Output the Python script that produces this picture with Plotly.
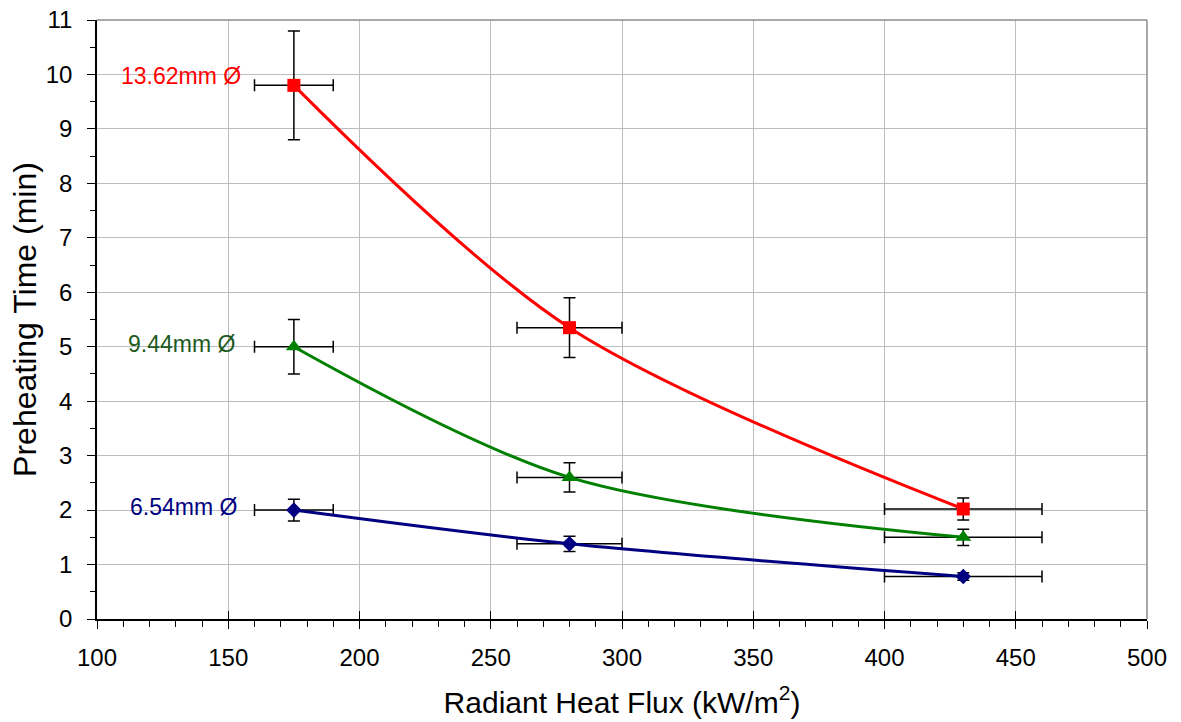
import plotly.graph_objects as go

flux = [175, 280, 430]
flux_err = [15, 20, 30]

t_1362 = [9.8, 5.35, 2.02]
e_1362 = [1.0, 0.55, 0.2]
t_944 = [5.0, 2.6, 1.5]
e_944 = [0.5, 0.27, 0.15]
t_654 = [2.0, 1.38, 0.78]
e_654 = [0.2, 0.14, 0.07]

labels = ["13.62mm Ø", "9.44mm Ø", "6.54mm Ø"]
label_y = [9.98, 5.05, 2.05]
label_x = [155.8, 153.2, 154]

FONT = "Liberation Sans, Arial, sans-serif"

series = [
    (t_1362, e_1362, "#FF0000", "square", 13, "#FF0000"),
    (t_944, e_944, "#008000", "triangle-up", 14, "#1E5A1E"),
    (t_654, e_654, "#000080", "diamond", 12, "#000080"),
]

fig = go.Figure()
for (ys, es, col, sym, sz, lc) in series:
    fig.add_trace(go.Scatter(
        x=flux, y=ys, mode="lines+markers",
        line=dict(color=col, width=3, shape="spline", smoothing=0.9),
        marker=dict(symbol=sym, size=sz, color=col),
        error_y=dict(type="data", array=es, color="black", thickness=1.5, width=6),
        error_x=dict(type="data", array=flux_err, color="black", thickness=1.5, width=6),
        showlegend=False,
    ))

for txt, yy, xx, (_, _, _, _, _, lc) in zip(labels, label_y, label_x, series):
    fig.add_annotation(x=xx, y=yy, xref="x", yref="y", text=txt, showarrow=False,
                       xanchor="right", yanchor="middle",
                       font=dict(family=FONT, size=23, color=lc))

# overlay axis for inward part of the cross ticks
fig.add_trace(go.Scatter(x=[None], y=[None], xaxis="x2", showlegend=False))

fig.update_layout(
    width=1181, height=722,
    margin=dict(l=97, r=34, t=20, b=103),
    paper_bgcolor="white", plot_bgcolor="white",
    font=dict(family=FONT, size=24, color="black"),
    xaxis=dict(
        range=[100, 500], dtick=50, tick0=100, automargin=False,
        showgrid=True, gridcolor="#BDBDBD", gridwidth=1,
        showline=True, linecolor="black", linewidth=1.5, mirror=False,
        ticks="outside", ticklen=8, tickwidth=1.2, tickcolor="black",
        minor=dict(dtick=10, ticks="outside", ticklen=6, tickcolor="black", showgrid=False),
        title=dict(text="Radiant Heat Flux (kW/m<sup>2</sup>)", font=dict(size=30), standoff=22),
        tickfont=dict(size=24), ticklabelstandoff=8, zeroline=False,
    ),
    xaxis2=dict(
        range=[100, 500], dtick=50, tick0=100, overlaying="x", side="bottom",
        showgrid=False, showticklabels=False, ticks="inside", ticklen=8, automargin=False,
        tickwidth=1.2, tickcolor="black", showline=False, zeroline=False,
    ),
    yaxis=dict(
        range=[0, 11], dtick=1, automargin=False,
        showgrid=True, gridcolor="#BDBDBD", gridwidth=1,
        showline=True, linecolor="black", linewidth=1.5,
        ticks="outside", ticklen=8, tickwidth=1.2, tickcolor="black",
        minor=dict(dtick=0.5, ticks="outside", ticklen=5, tickcolor="black", showgrid=False),
        title=dict(text="Preheating Time (min)", font=dict(size=32), standoff=0),
        tickfont=dict(size=24), ticklabelstandoff=10, zeroline=False,
    ),
    shapes=[
        dict(type="line", xref="paper", yref="paper", x0=0, x1=1, y0=1, y1=1,
             line=dict(color="#8C8C8C", width=1.5)),
        dict(type="line", xref="paper", yref="paper", x0=1, x1=1, y0=0, y1=1,
             line=dict(color="#8C8C8C", width=1.5)),
    ],
)

fig.write_html("out.html")
